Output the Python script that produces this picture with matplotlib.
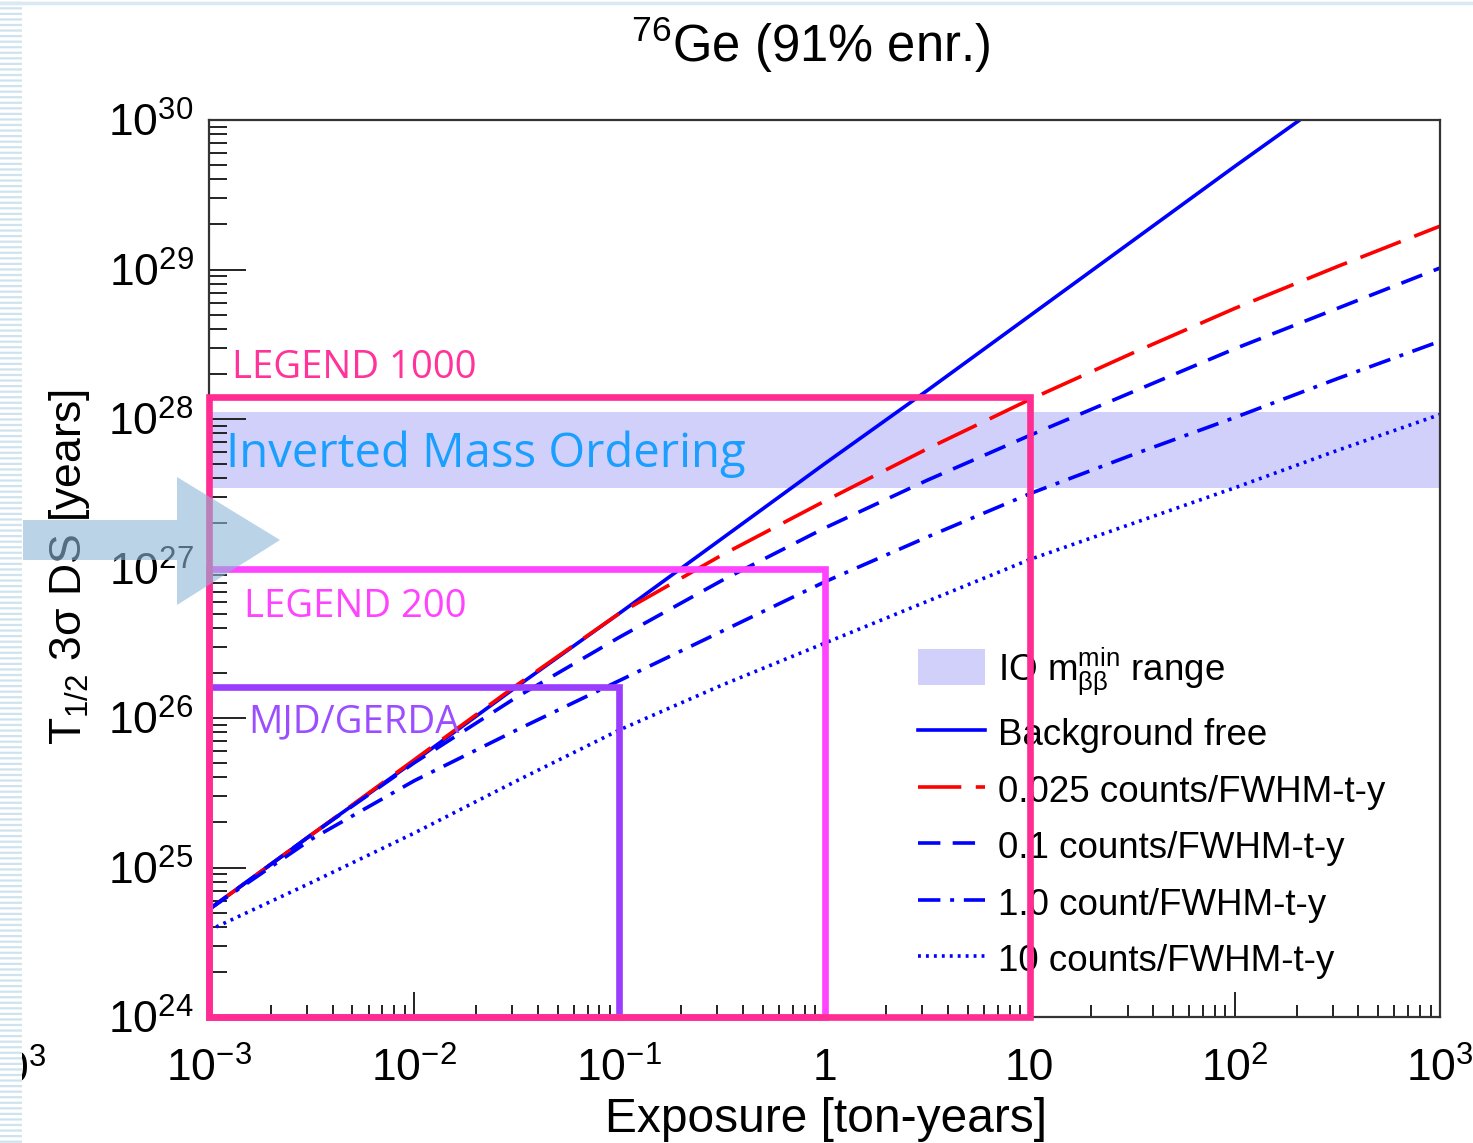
import matplotlib
matplotlib.use("Agg")
import matplotlib.pyplot as plt
from matplotlib.patches import Rectangle, Polygon
from matplotlib.lines import Line2D
from matplotlib.ticker import LogLocator, NullFormatter

W, H = 1473, 1143

log_exposure = [-3.0, -2.5, -2.0, -1.5, -1.0, -0.5, 0.0, 0.5, 1.0, 1.5, 2.0, 2.5, 3.0]

# log10 of the 3 sigma discovery half-life [years]
bkg_free = [24.72, 25.22, 25.71, 26.21, 26.70, 27.20, 27.70, 28.19, 28.69, 29.19, 29.69, 30.18, 30.68]
bkg_0025 = [24.72, 25.22, 25.72, 26.22, 26.70, 27.09, 27.45, 27.80, 28.13, 28.44, 28.74, 29.02, 29.29]
bkg_01 = [24.72, 25.22, 25.70, 26.14, 26.54, 26.92, 27.27, 27.59, 27.89, 28.18, 28.47, 28.74, 29.01]
bkg_1 = [24.72, 25.19, 25.58, 25.92, 26.25, 26.58, 26.91, 27.21, 27.50, 27.76, 28.01, 28.27, 28.52]
bkg_10 = [24.58, 24.90, 25.23, 25.58, 25.92, 26.22, 26.50, 26.78, 27.06, 27.30, 27.54, 27.79, 28.03]

series_labels = ["Background free", "0.025 counts/FWHM-t-y", "0.1 counts/FWHM-t-y",
                 "1.0 count/FWHM-t-y", "10 counts/FWHM-t-y"]
band_label = r"IO m$_{\beta\beta}^{\rm min}$ range"

# inverted ordering band [years]
io_band = [3.46e27, 1.12e28]

# experiment boxes: name, max exposure, half-life reach
experiments = ["MJD/GERDA", "LEGEND 200", "LEGEND 1000"]
exp_exposure = [0.1, 1.0, 10.0]
exp_reach = [1.62e26, 1.0e27, 1.41e28]

x_ticks = [1e-3, 1e-2, 1e-1, 1, 10, 1e2, 1e3]
x_tick_labels = [r"$10^{-3}$", r"$10^{-2}$", r"$10^{-1}$", "1", "10", r"$10^{2}$", r"$10^{3}$"]
y_ticks = [1e24, 1e25, 1e26, 1e27, 1e28, 1e29, 1e30]
y_tick_labels = [r"$10^{24}$", r"$10^{25}$", r"$10^{26}$", r"$10^{27}$",
                 r"$10^{28}$", r"$10^{29}$", r"$10^{30}$"]


def px_x(x):
    return x / W


def px_y(y):
    return 1 - y / H


plt.rcParams["font.family"] = ["Liberation Sans", "DejaVu Sans"]
plt.rcParams["mathtext.fontset"] = "custom"
plt.rcParams["mathtext.rm"] = "Liberation Sans"
plt.rcParams["mathtext.it"] = "Liberation Sans"
plt.rcParams["mathtext.bf"] = "Liberation Sans:bold"
plt.rcParams["hatch.linewidth"] = 1.6

fig = plt.figure(figsize=(W / 100, H / 100), dpi=100)
ax = fig.add_axes([px_x(209), px_y(1017), (1440 - 209) / W, (1017 - 120) / H])

x = [10 ** v for v in log_exposure]
ax.axhspan(io_band[0], io_band[1], color="#d0d0fa", lw=0, zorder=0.5)

lw = 2.6
l0, = ax.plot(x, [10 ** v for v in bkg_free], color="#0000ff", lw=lw)
l1, = ax.plot(x, [10 ** v for v in bkg_0025], color="#ff0000", lw=lw, dashes=(12, 4))
l2, = ax.plot(x, [10 ** v for v in bkg_01], color="#0000ff", lw=lw, dashes=(6.2, 3.4))
l3, = ax.plot(x, [10 ** v for v in bkg_1], color="#0000ff", lw=lw, dashes=(6.2, 2.7, 1.1, 2.7))
l4, = ax.plot(x, [10 ** v for v in bkg_10], color="#0000ff", lw=lw, dashes=(0.8, 1.4))

ax.set_xscale("log")
ax.set_yscale("log")
ax.set_xlim(1e-3, 1e3)
ax.set_ylim(1e24, 1e30)

ax.set_xticks(x_ticks)
ax.set_xticklabels(x_tick_labels)
ax.set_yticks(y_ticks)
ax.set_yticklabels(y_tick_labels)
ax.xaxis.set_minor_locator(LogLocator(base=10, subs=range(2, 10)))
ax.yaxis.set_minor_locator(LogLocator(base=10, subs=range(2, 10)))
ax.xaxis.set_minor_formatter(NullFormatter())
ax.yaxis.set_minor_formatter(NullFormatter())
ax.tick_params(axis="both", which="both", direction="in", top=False, right=False,
               color="#222222", labelsize=32)
ax.tick_params(axis="y", which="major", length=26.5, width=1.4, pad=11)
ax.tick_params(axis="y", which="minor", length=13, width=1.4)
ax.tick_params(axis="x", which="major", length=18, width=1.4, pad=22)
ax.tick_params(axis="x", which="minor", length=9, width=1.4)
for s in ax.spines.values():
    s.set_color("#333333")
    s.set_linewidth(1.6)

# experiment reach boxes
box_colors = ["#9b3dff", "#ff44ff", "#ff2d91"]
for name, ex, reach, c in zip(experiments, exp_exposure, exp_reach, box_colors):
    ax.add_patch(Rectangle((1e-3, 1e24), ex - 1e-3, reach - 1e24, fill=False,
                           edgecolor=c, lw=4.8, zorder=6, clip_on=False))

ax.text(px_x(232), px_y(378), "LEGEND 1000", transform=fig.transFigure, color="#ff3399",
        fontsize=27.5, family="Open Sans", va="baseline", zorder=7)
ax.text(px_x(244), px_y(617), "LEGEND 200", transform=fig.transFigure, color="#ff44ff",
        fontsize=27.5, family="Open Sans", va="baseline", zorder=7)
ax.text(px_x(248), px_y(732), "MJD/GERDA", transform=fig.transFigure, color="#9b4dff",
        fontsize=27.5, family="Open Sans", va="baseline", zorder=7)
ax.text(px_x(226), px_y(467), "Inverted Mass Ordering", transform=fig.transFigure,
        color="#1a9fff", fontsize=34, family="Open Sans", va="baseline", zorder=7)

band_handle = Rectangle((0, 0), 1, 1, facecolor="#d0d0fa", edgecolor="none")
ax.legend([band_handle, l0, l1, l2, l3, l4], [band_label] + series_labels,
          loc="upper left", bbox_to_anchor=(px_x(918), px_y(645)),
          bbox_transform=fig.transFigure, frameon=False, fontsize=26.5,
          handlelength=1.82, handleheight=1.1, handletextpad=0.35,
          labelspacing=0.5, borderpad=0, borderaxespad=0)

fig.text(px_x(810), px_y(62), r"$^{76}$Ge (91% enr.)", fontsize=36.5, ha="center", va="baseline")
fig.text(px_x(826), px_y(1132), "Exposure [ton-years]", fontsize=34.5, ha="center", va="baseline")
fig.text(px_x(92), px_y(567), r"T$_{1/2}$ 3σ DS [years]", fontsize=32, rotation=90,
         ha="right", va="center")

# cut-off label from the neighbouring panel
fig.text(px_x(47), px_y(1084), r"$10^{3}$", fontsize=32, ha="right", va="baseline")

# striped strip on the left edge and thin line at the top
fig.add_artist(Rectangle((0, 0), px_x(22), 1, transform=fig.transFigure, facecolor="white",
                         edgecolor="#cfe3ee", hatch="---", lw=0, zorder=8))
fig.add_artist(Line2D([0, 1], [px_y(3), px_y(3)], transform=fig.transFigure,
                      color="#dbe9f3", lw=2.5, zorder=8))

# translucent arrow pointing at the IO band
arrow_px = [(23, 520), (177, 520), (177, 477), (280, 540), (177, 605), (177, 560), (23, 560)]
fig.add_artist(Polygon([(px_x(a), px_y(b)) for a, b in arrow_px], closed=True,
                       transform=fig.transFigure, facecolor="#8fb6d6", alpha=0.6,
                       lw=0, zorder=9))

fig.savefig("out.png", dpi=100)
